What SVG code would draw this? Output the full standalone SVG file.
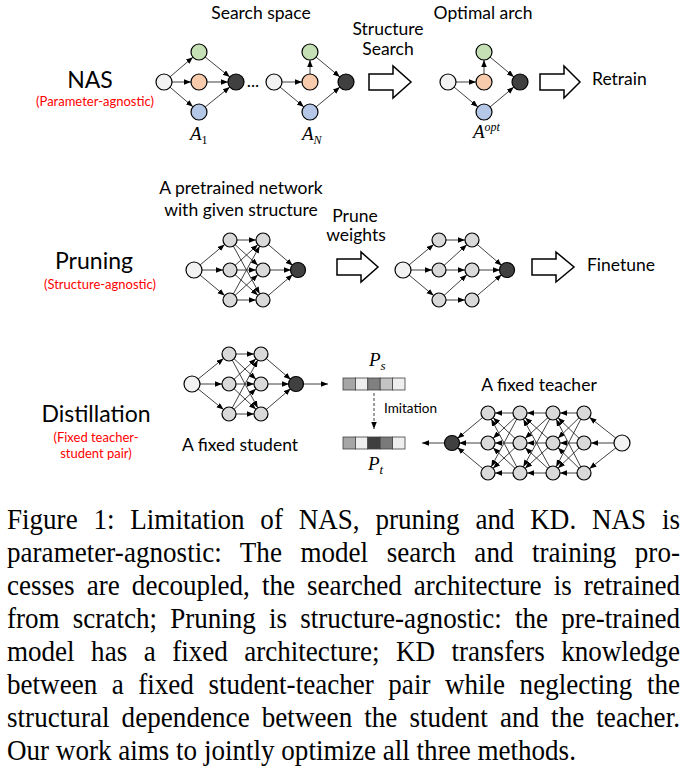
<svg xmlns="http://www.w3.org/2000/svg" width="687" height="769" viewBox="0 0 687 769">
<style>
.e{stroke:#2b2b2b;stroke-width:0.9;fill:none}
.a8{marker-end:url(#a8)}
.a7{marker-end:url(#a7)}
.a0{marker-end:url(#a0)}
.dash{stroke-dasharray:3,2}
.n{stroke:#000;stroke-width:1.2}
.in{fill:#f2f2f2}.g{fill:#c5e0b4}.o{fill:#f8cbad}.b{fill:#b4c7e7}.d{fill:#404040}.l{fill:#d9d9d9}
.t{font-family:Lato,"Open Sans",sans-serif;fill:#000}
.lab{font-size:17.5px}
.big{font-size:23px}
.red{font-size:13px;fill:#ff0000}
.sm{font-size:13.5px}
.m{font-family:"Liberation Serif","Times New Roman",serif;font-style:italic;font-size:19px;fill:#000}
.cap{font-family:"Liberation Serif","Times New Roman",serif;font-size:28.5px;fill:#000}
.blk{fill:#fff;stroke:#000;stroke-width:1.5}
.cell{stroke:#404040;stroke-width:0.8}
</style>
<defs>
<marker id="a8" markerUnits="userSpaceOnUse" markerWidth="20" markerHeight="8" refX="15" refY="2.75" orient="auto"><path d="M0,0 L7,2.75 L0,5.5 z" fill="#000"/></marker>
<marker id="a7" markerUnits="userSpaceOnUse" markerWidth="20" markerHeight="8" refX="14" refY="2.75" orient="auto"><path d="M0,0 L7,2.75 L0,5.5 z" fill="#000"/></marker>
<marker id="a0" markerUnits="userSpaceOnUse" markerWidth="10" markerHeight="8" refX="7" refY="2.75" orient="auto"><path d="M0,0 L7,2.75 L0,5.5 z" fill="#000"/></marker>
</defs>
<rect width="687" height="769" fill="#fff"/>

<g id="connectors">
<!-- NAS 1 -->
<line class="e a8" x1="164" y1="82" x2="199" y2="52"/>
<line class="e a8" x1="164" y1="82" x2="199" y2="82"/>
<line class="e a8" x1="164" y1="82" x2="199" y2="112"/>
<line class="e a8" x1="199" y1="52" x2="236" y2="82"/>
<line class="e a8" x1="199" y1="82" x2="236" y2="82"/>
<line class="e a8" x1="199" y1="112" x2="236" y2="82"/>
<!-- NAS N -->
<line class="e a8" x1="274" y1="82" x2="310" y2="82"/>
<line class="e a8" x1="310" y1="82" x2="310" y2="52"/>
<line class="e a8" x1="274" y1="82" x2="310" y2="112"/>
<line class="e a8" x1="310" y1="52" x2="346" y2="82"/>
<line class="e a8" x1="310" y1="112" x2="346" y2="82"/>
<!-- NAS opt -->
<line class="e a8" x1="448" y1="82" x2="484" y2="82"/>
<line class="e a8" x1="484" y1="82" x2="484" y2="52"/>
<line class="e a8" x1="448" y1="82" x2="484" y2="112"/>
<line class="e a8" x1="484" y1="52" x2="520" y2="82"/>
<line class="e a8" x1="484" y1="112" x2="520" y2="82"/>
<!-- Pruning 1 -->
<line class="e a7" x1="194" y1="270" x2="230" y2="240"/>
<line class="e a7" x1="194" y1="270" x2="230" y2="270"/>
<line class="e a7" x1="194" y1="270" x2="230" y2="300"/>
<line class="e a7" x1="230" y1="240" x2="263" y2="240"/>
<line class="e a7" x1="230" y1="240" x2="263" y2="270"/>
<line class="e a7" x1="230" y1="240" x2="263" y2="300"/>
<line class="e a7" x1="230" y1="270" x2="263" y2="240"/>
<line class="e a7" x1="230" y1="270" x2="263" y2="270"/>
<line class="e a7" x1="230" y1="270" x2="263" y2="300"/>
<line class="e a7" x1="230" y1="300" x2="263" y2="240"/>
<line class="e a7" x1="230" y1="300" x2="263" y2="270"/>
<line class="e a7" x1="230" y1="300" x2="263" y2="300"/>
<line class="e a7" x1="263" y1="240" x2="298" y2="270"/>
<line class="e a7" x1="263" y1="270" x2="298" y2="270"/>
<line class="e a7" x1="263" y1="300" x2="298" y2="270"/>
<!-- Pruning 2 -->
<line class="e a7" x1="403" y1="270" x2="439" y2="240"/>
<line class="e a7" x1="403" y1="270" x2="439" y2="270"/>
<line class="e a7" x1="403" y1="270" x2="439" y2="300"/>
<line class="e a7" x1="439" y1="240" x2="472" y2="240"/>
<line class="e a7" x1="439" y1="270" x2="472" y2="240"/>
<line class="e a7" x1="439" y1="270" x2="472" y2="270"/>
<line class="e a7" x1="439" y1="300" x2="472" y2="270"/>
<line class="e a7" x1="439" y1="300" x2="472" y2="300"/>
<line class="e a7" x1="472" y1="240" x2="507" y2="270"/>
<line class="e a7" x1="472" y1="270" x2="507" y2="270"/>
<line class="e a7" x1="472" y1="300" x2="507" y2="270"/>
<!-- Student -->
<line class="e a7" x1="192" y1="384" x2="229" y2="354"/>
<line class="e a7" x1="192" y1="384" x2="229" y2="384"/>
<line class="e a7" x1="192" y1="384" x2="229" y2="414"/>
<line class="e a7" x1="229" y1="354" x2="261" y2="354"/>
<line class="e a7" x1="229" y1="354" x2="261" y2="384"/>
<line class="e a7" x1="229" y1="354" x2="261" y2="414"/>
<line class="e a7" x1="229" y1="384" x2="261" y2="354"/>
<line class="e a7" x1="229" y1="384" x2="261" y2="384"/>
<line class="e a7" x1="229" y1="384" x2="261" y2="414"/>
<line class="e a7" x1="229" y1="414" x2="261" y2="354"/>
<line class="e a7" x1="229" y1="414" x2="261" y2="384"/>
<line class="e a7" x1="229" y1="414" x2="261" y2="414"/>
<line class="e a7" x1="261" y1="354" x2="296" y2="384"/>
<line class="e a7" x1="261" y1="384" x2="296" y2="384"/>
<line class="e a7" x1="261" y1="414" x2="296" y2="384"/>
<line class="e a0" x1="300" y1="384" x2="328" y2="384"/>
<!-- Imitation -->
<line class="e dash a0" x1="374" y1="393" x2="374" y2="429"/>
<!-- Teacher -->
<line class="e a7" x1="622" y1="443" x2="584" y2="413"/>
<line class="e a7" x1="622" y1="443" x2="584" y2="443"/>
<line class="e a7" x1="622" y1="443" x2="584" y2="473"/>
<line class="e a7" x1="584" y1="413" x2="553" y2="413"/>
<line class="e a7" x1="584" y1="413" x2="553" y2="443"/>
<line class="e a7" x1="584" y1="413" x2="553" y2="473"/>
<line class="e a7" x1="584" y1="443" x2="553" y2="413"/>
<line class="e a7" x1="584" y1="443" x2="553" y2="443"/>
<line class="e a7" x1="584" y1="443" x2="553" y2="473"/>
<line class="e a7" x1="584" y1="473" x2="553" y2="413"/>
<line class="e a7" x1="584" y1="473" x2="553" y2="443"/>
<line class="e a7" x1="584" y1="473" x2="553" y2="473"/>
<line class="e a7" x1="553" y1="413" x2="520" y2="413"/>
<line class="e a7" x1="553" y1="413" x2="520" y2="443"/>
<line class="e a7" x1="553" y1="413" x2="520" y2="473"/>
<line class="e a7" x1="553" y1="443" x2="520" y2="413"/>
<line class="e a7" x1="553" y1="443" x2="520" y2="443"/>
<line class="e a7" x1="553" y1="443" x2="520" y2="473"/>
<line class="e a7" x1="553" y1="473" x2="520" y2="413"/>
<line class="e a7" x1="553" y1="473" x2="520" y2="443"/>
<line class="e a7" x1="553" y1="473" x2="520" y2="473"/>
<line class="e a7" x1="520" y1="413" x2="488" y2="413"/>
<line class="e a7" x1="520" y1="413" x2="488" y2="443"/>
<line class="e a7" x1="520" y1="413" x2="488" y2="473"/>
<line class="e a7" x1="520" y1="443" x2="488" y2="413"/>
<line class="e a7" x1="520" y1="443" x2="488" y2="443"/>
<line class="e a7" x1="520" y1="443" x2="488" y2="473"/>
<line class="e a7" x1="520" y1="473" x2="488" y2="413"/>
<line class="e a7" x1="520" y1="473" x2="488" y2="443"/>
<line class="e a7" x1="520" y1="473" x2="488" y2="473"/>
<line class="e a7" x1="488" y1="413" x2="452" y2="443"/>
<line class="e a7" x1="488" y1="443" x2="452" y2="443"/>
<line class="e a7" x1="488" y1="473" x2="452" y2="443"/>
<line class="e a0" x1="445" y1="443" x2="422" y2="443"/>
<!-- Block arrows -->
<polygon class="blk" points="369,74 393,74 393,66 411,82 393,98 393,90 369,90"/>
<polygon class="blk" points="540,74 564,74 564,66 580,82 564,98 564,90 540,90"/>
<polygon class="blk" points="337,259 361,259 361,252 378,267 361,282 361,275 337,275"/>
<polygon class="blk" points="532,259 556,259 556,252 574,267 556,282 556,275 532,275"/>
</g>

<!-- NAS nodes -->
<g id="nas1-in"><circle class="n in" cx="164" cy="82" r="8"/></g>
<g id="nas1-g"><circle class="n g" cx="199" cy="52" r="8"/></g>
<g id="nas1-o"><circle class="n o" cx="199" cy="82" r="8"/></g>
<g id="nas1-b"><circle class="n b" cx="199" cy="112" r="8"/></g>
<g id="nas1-d"><circle class="n d" cx="236" cy="82" r="8"/></g>
<g id="nasN-in"><circle class="n in" cx="274" cy="82" r="8"/></g>
<g id="nasN-g"><circle class="n g" cx="310" cy="52" r="8"/></g>
<g id="nasN-o"><circle class="n o" cx="310" cy="82" r="8"/></g>
<g id="nasN-b"><circle class="n b" cx="310" cy="112" r="8"/></g>
<g id="nasN-d"><circle class="n d" cx="346" cy="82" r="8"/></g>
<g id="opt-in"><circle class="n in" cx="448" cy="82" r="8"/></g>
<g id="opt-g"><circle class="n g" cx="484" cy="52" r="8"/></g>
<g id="opt-o"><circle class="n o" cx="484" cy="82" r="8"/></g>
<g id="opt-b"><circle class="n b" cx="484" cy="112" r="8"/></g>
<g id="opt-d"><circle class="n d" cx="520" cy="82" r="8"/></g>

<!-- Pruning 1 nodes -->
<g id="pr1-in"><circle class="n in" cx="194" cy="270" r="8"/></g>
<g id="pr1-l1a"><circle class="n l" cx="230" cy="240" r="7"/></g>
<g id="pr1-l1b"><circle class="n l" cx="230" cy="270" r="7"/></g>
<g id="pr1-l1c"><circle class="n l" cx="230" cy="300" r="7"/></g>
<g id="pr1-l2a"><circle class="n l" cx="263" cy="240" r="7"/></g>
<g id="pr1-l2b"><circle class="n l" cx="263" cy="270" r="7"/></g>
<g id="pr1-l2c"><circle class="n l" cx="263" cy="300" r="7"/></g>
<g id="pr1-out"><circle class="n d" cx="298" cy="270" r="7.5"/></g>
<!-- Pruning 2 nodes -->
<g id="pr2-in"><circle class="n in" cx="403" cy="270" r="8"/></g>
<g id="pr2-l1a"><circle class="n l" cx="439" cy="240" r="7"/></g>
<g id="pr2-l1b"><circle class="n l" cx="439" cy="270" r="7"/></g>
<g id="pr2-l1c"><circle class="n l" cx="439" cy="300" r="7"/></g>
<g id="pr2-l2a"><circle class="n l" cx="472" cy="240" r="7"/></g>
<g id="pr2-l2b"><circle class="n l" cx="472" cy="270" r="7"/></g>
<g id="pr2-l2c"><circle class="n l" cx="472" cy="300" r="7"/></g>
<g id="pr2-out"><circle class="n d" cx="507" cy="270" r="7.5"/></g>
<!-- Student nodes -->
<g id="st-in"><circle class="n in" cx="192" cy="384" r="8"/></g>
<g id="st-l1a"><circle class="n l" cx="229" cy="354" r="7"/></g>
<g id="st-l1b"><circle class="n l" cx="229" cy="384" r="7"/></g>
<g id="st-l1c"><circle class="n l" cx="229" cy="414" r="7"/></g>
<g id="st-l2a"><circle class="n l" cx="261" cy="354" r="7"/></g>
<g id="st-l2b"><circle class="n l" cx="261" cy="384" r="7"/></g>
<g id="st-l2c"><circle class="n l" cx="261" cy="414" r="7"/></g>
<g id="st-out"><circle class="n d" cx="296" cy="384" r="7.5"/></g>
<!-- Teacher nodes -->
<g id="te-in"><circle class="n in" cx="622" cy="443" r="8"/></g>
<g id="te-l4a"><circle class="n l" cx="584" cy="413" r="7"/></g>
<g id="te-l4b"><circle class="n l" cx="584" cy="443" r="7"/></g>
<g id="te-l4c"><circle class="n l" cx="584" cy="473" r="7"/></g>
<g id="te-l3a"><circle class="n l" cx="553" cy="413" r="7"/></g>
<g id="te-l3b"><circle class="n l" cx="553" cy="443" r="7"/></g>
<g id="te-l3c"><circle class="n l" cx="553" cy="473" r="7"/></g>
<g id="te-l2a"><circle class="n l" cx="520" cy="413" r="7"/></g>
<g id="te-l2b"><circle class="n l" cx="520" cy="443" r="7"/></g>
<g id="te-l2c"><circle class="n l" cx="520" cy="473" r="7"/></g>
<g id="te-l1a"><circle class="n l" cx="488" cy="413" r="7"/></g>
<g id="te-l1b"><circle class="n l" cx="488" cy="443" r="7"/></g>
<g id="te-l1c"><circle class="n l" cx="488" cy="473" r="7"/></g>
<g id="te-out"><circle class="n d" cx="452" cy="443" r="7.5"/></g>

<!-- Probability bars -->
<g id="ps-bar">
<rect class="cell" x="343" y="378" width="12.4" height="12" fill="#a6a6a6"/>
<rect class="cell" x="355.4" y="378" width="12.4" height="12" fill="#eeeeee"/>
<rect class="cell" x="367.8" y="378" width="12.4" height="12" fill="#808080"/>
<rect class="cell" x="380.2" y="378" width="12.4" height="12" fill="#c4c4c4"/>
<rect class="cell" x="392.6" y="378" width="12.4" height="12" fill="#eeeeee"/>
</g>
<g id="pt-bar">
<rect class="cell" x="343" y="437" width="12.4" height="12" fill="#a6a6a6"/>
<rect class="cell" x="355.4" y="437" width="12.4" height="12" fill="#eeeeee"/>
<rect class="cell" x="367.8" y="437" width="12.4" height="12" fill="#3f3f3f"/>
<rect class="cell" x="380.2" y="437" width="12.4" height="12" fill="#7a7a7a"/>
<rect class="cell" x="392.6" y="437" width="12.4" height="12" fill="#eeeeee"/>
</g>

<!-- Labels -->
<g id="labels">
<text class="t lab" x="261" y="19" text-anchor="middle">Search space</text>
<text class="t lab" x="483" y="19" text-anchor="middle">Optimal arch</text>
<text class="t lab" x="388" y="35" text-anchor="middle">Structure</text>
<text class="t lab" x="388" y="55" text-anchor="middle">Search</text>
<text class="t lab" x="592" y="85">Retrain</text>
<text class="t big" x="90" y="88" text-anchor="middle">NAS</text>
<text class="t red" x="95" y="106" text-anchor="middle">(Parameter-agnostic)</text>
<text class="t lab" x="253" y="87" text-anchor="middle">...</text>
<text class="m" x="190" y="140">A<tspan font-style="normal" font-size="12" dy="4">1</tspan></text>
<text class="m" x="302" y="140">A<tspan font-size="12" dy="4">N</tspan></text>
<text class="m" x="473" y="138">A<tspan font-size="12" dy="-7">opt</tspan></text>

<text class="t lab" x="241" y="194" text-anchor="middle">A pretrained network</text>
<text class="t lab" x="241" y="216" text-anchor="middle">with given structure</text>
<text class="t big" x="94" y="269" text-anchor="middle">Pruning</text>
<text class="t red" x="100" y="289" text-anchor="middle">(Structure-agnostic)</text>
<text class="t lab" x="355" y="222" text-anchor="middle">Prune</text>
<text class="t lab" x="356" y="241" text-anchor="middle">weights</text>
<text class="t lab" x="587" y="271">Finetune</text>

<text class="t big" x="96" y="422" text-anchor="middle">Distillation</text>
<text class="t red" x="96" y="442" text-anchor="middle">(Fixed teacher-</text>
<text class="t red" x="96" y="458" text-anchor="middle">student pair)</text>
<text class="t lab" x="240" y="451" text-anchor="middle">A fixed student</text>
<text class="t lab" x="539" y="391" text-anchor="middle">A fixed teacher</text>
<text class="t sm" x="384" y="413">Imitation</text>
<text class="m" x="369" y="366">P<tspan font-size="13" dy="4">s</tspan></text>
<text class="m" x="368" y="470">P<tspan font-size="13" dy="4">t</tspan></text>
</g>

<!-- Caption -->
<g id="caption" transform="translate(7,0) scale(0.95,1)">
<text class="cap" x="0" y="529" word-spacing="9.5" textLength="708.4" lengthAdjust="spacing">Figure 1: Limitation of NAS, pruning and KD. NAS is</text>
<text class="cap" x="0" y="562" word-spacing="12.3" textLength="708.4" lengthAdjust="spacing">parameter-agnostic: The model search and training pro-</text>
<text class="cap" x="0" y="595" word-spacing="5.6" textLength="708.4" lengthAdjust="spacing">cesses are decoupled, the searched architecture is retrained</text>
<text class="cap" x="0" y="628" word-spacing="6.7" textLength="708.4" lengthAdjust="spacing">from scratch; Pruning is structure-agnostic: the pre-trained</text>
<text class="cap" x="0" y="661" word-spacing="10.2" textLength="708.4" lengthAdjust="spacing">model has a fixed architecture; KD transfers knowledge</text>
<text class="cap" x="0" y="694" word-spacing="8.1" textLength="708.4" lengthAdjust="spacing">between a fixed student-teacher pair while neglecting the</text>
<text class="cap" x="0" y="727" word-spacing="5.5" textLength="708.4" lengthAdjust="spacing">structural dependence between the student and the teacher.</text>
<text class="cap" x="0" y="760">Our work aims to jointly optimize all three methods.</text>
</g>
</svg>
